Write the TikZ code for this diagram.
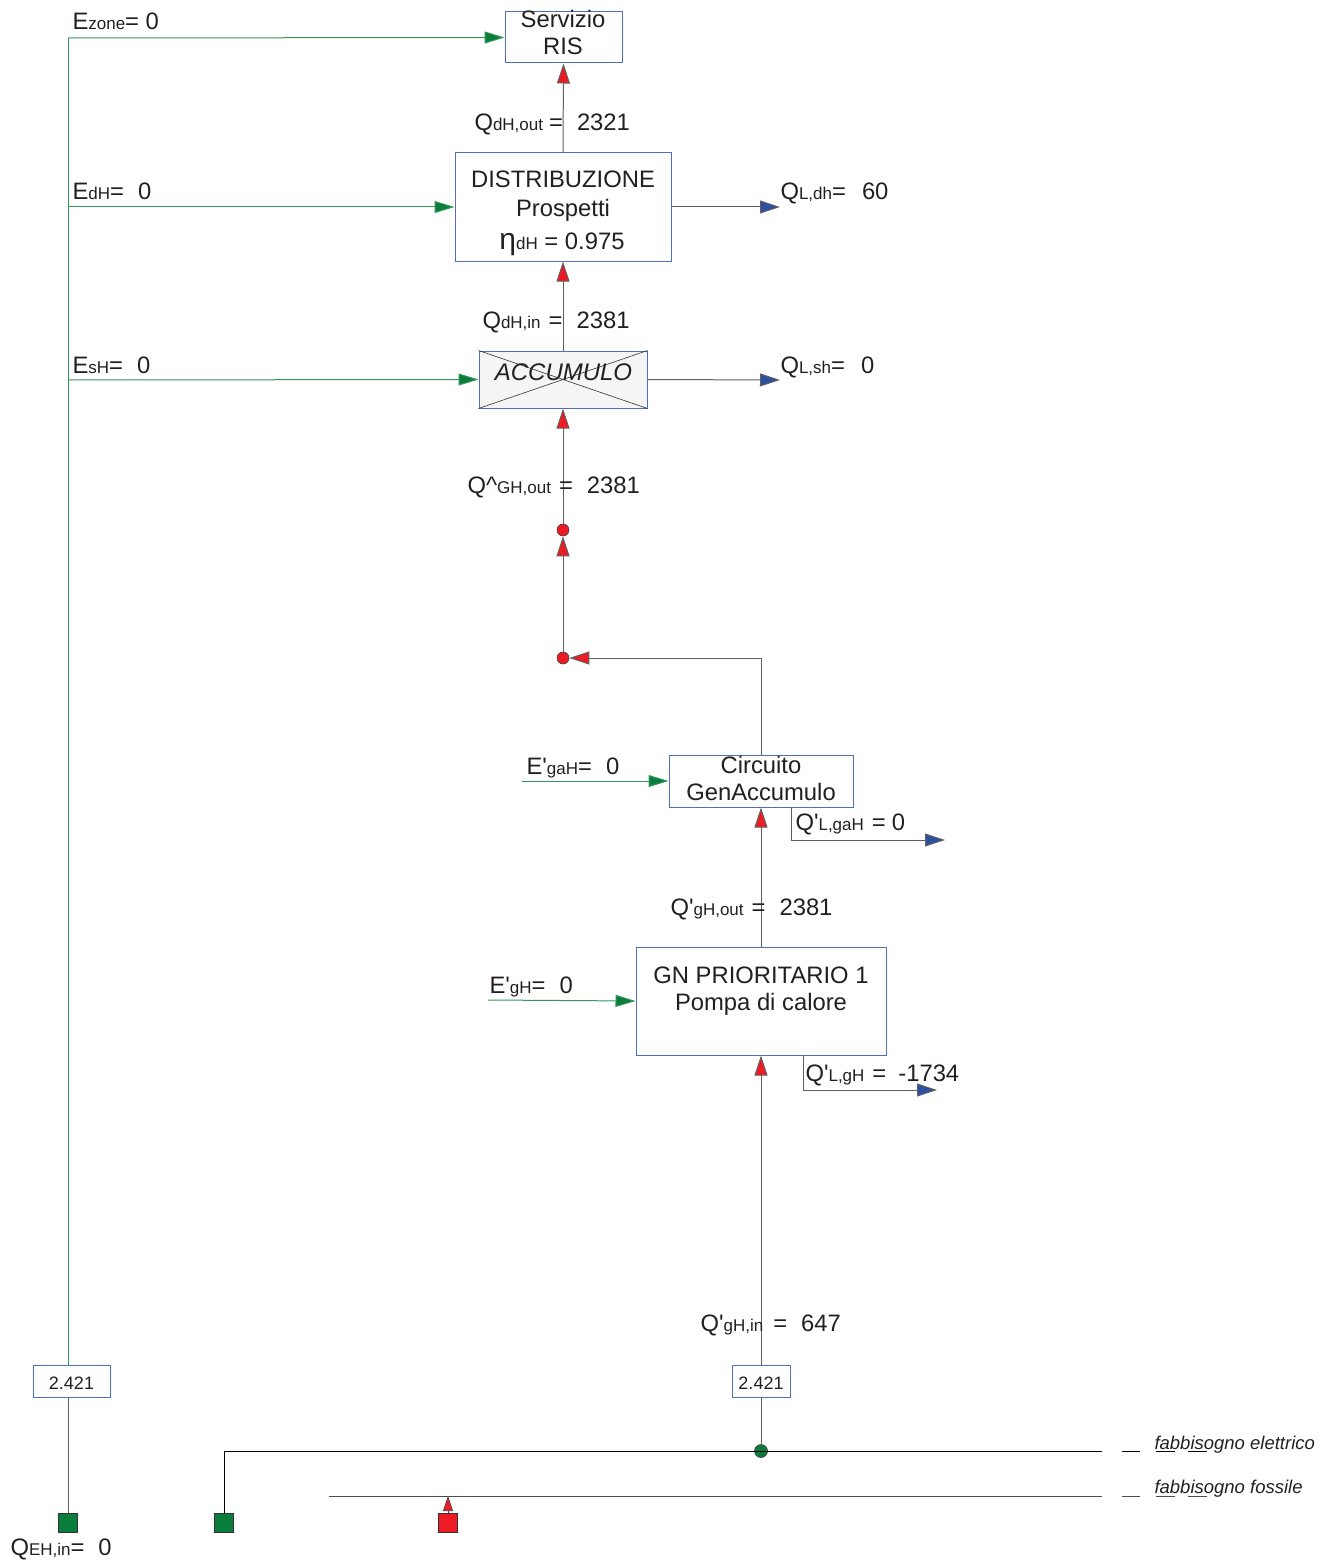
\documentclass[tikz,border=0pt]{standalone}
\usepackage{fontspec}
\newfontfamily\mainf{Liberation Sans}
\setmainfont{Liberation Sans}
\usetikzlibrary{arrows.meta}
\definecolor{ink}{RGB}{35,31,32}
\definecolor{boxblue}{RGB}{80,110,190}
\definecolor{lgreen}{RGB}{52,150,90}
\definecolor{dgreen}{RGB}{10,125,60}
\definecolor{ared}{RGB}{237,28,36}
\definecolor{ablue}{RGB}{45,80,160}
\definecolor{lgrey}{RGB}{95,95,95}
\definecolor{accfill}{RGB}{245,245,245}
\newcommand\sbx[1]{{\fontsize{17}{17}\selectfont #1}}
\begin{document}
\begin{tikzpicture}[x=1pt,y=-1pt,line width=1pt,
  box/.style={draw=boxblue,line width=1pt,fill=white,inner sep=0pt},
  txt/.style={anchor=base,inner sep=0pt,text=ink,font=\mainf\fontsize{23.8}{26}\selectfont},
  lbl/.style={txt,anchor=base west},
  small/.style={txt,font=\mainf\fontsize{18}{20}\selectfont},
  legend/.style={lbl,font=\mainf\fontsize{18.5}{20}\selectfont\itshape},
  rarr/.style={draw=lgrey,-{Triangle[length=20pt,width=13pt,fill=ared]}},
  garr/.style={draw=lgreen,-{Triangle[length=20pt,width=12pt,fill=dgreen]}},
  barr/.style={draw=lgrey,-{Triangle[length=20pt,width=13pt,fill=ablue]}},
  plain/.style={draw=lgrey},
  reddot/.style={circle,fill=ared,draw=black!75,line width=0.6pt,minimum size=12pt,inner sep=0pt},
  sqr/.style={rectangle,draw=black!80,line width=0.6pt,minimum size=19pt,inner sep=0pt}]
\useasboundingbox (0,0) rectangle (1331,1562);

% ---------- boxes ----------
\node[box,minimum width=117pt,minimum height=51pt] (ris) at (563.5,37.5) {};
\node[txt] (ris-t1) at (563,28) {Servizio};
\node[txt] (ris-t2) at (563,55) {RIS};

\node[box,minimum width=216pt,minimum height=108pt] (dist) at (563,207) {};
\node[txt] (dist-t1) at (563,188) {DISTRIBUZIONE};
\node[txt] (dist-t2) at (563,217) {Prospetti};
\node[txt] (dist-t3) at (562,250) {{\fontsize{30}{30}\selectfont η}\sbx{dH} = 0.975};

\node[box,fill=accfill,minimum width=168pt,minimum height=57pt] (acc) at (563,379.5) {};
\draw[black!80,line width=0.6pt] (acc.north west) -- (acc.south east) (acc.south west) -- (acc.north east);
\node[txt,font=\mainf\fontsize{24}{26}\selectfont\itshape] (acc-t) at (563.5,380) {ACCUMULO};

\node[box,minimum width=184pt,minimum height=52pt] (circ) at (761,781) {};
\node[txt] (circ-t1) at (761,773) {Circuito};
\node[txt] (circ-t2) at (761,800) {GenAccumulo};

\node[box,minimum width=250pt,minimum height=108pt] (gn) at (761,1001) {};
\node[txt] (gn-t1) at (761,983) {GN PRIORITARIO 1};
\node[txt] (gn-t2) at (761,1010) {Pompa di calore};

\node[box,minimum width=77pt,minimum height=32pt] (k1) at (71.5,1381) {};
\node[small] (k1-t) at (71.5,1389) {2.421};
\node[box,minimum width=58pt,minimum height=32pt] (k2) at (761,1381) {};
\node[small] (k2-t) at (761,1389) {2.421};

% ---------- dots and squares ----------
\node[reddot] (dot1) at (563,530) {};
\node[reddot] (dot2) at (563,658) {};
\node[circle,fill=dgreen,draw=black!75,line width=0.6pt,minimum width=13pt,minimum height=13pt,inner sep=0pt] (gdot) at (761,1451) {};
\node[sqr,fill=dgreen] (sq1) at (68,1522.5) {};
\node[sqr,fill=dgreen] (sq2) at (224,1522.5) {};
\node[sqr,fill=ared] (sq3) at (448,1522.5) {};

% ---------- coordinates ----------
\coordinate (ctop) at (68,38);
\coordinate (cdH) at (68,207);
\coordinate (csH) at (68,380);
\coordinate (qLdh) at (780,207);
\coordinate (qLsh) at (780,380);
\coordinate (egaH) at (522,781);
\coordinate (egH) at (488,1000);
\coordinate (lgaH1) at (791,807);
\coordinate (lgaH2) at (945,840);
\coordinate (lgH1) at (803,1055);
\coordinate (lgH2) at (937,1090);
\coordinate (eEnd) at (1102,1451);
\coordinate (fStart) at (329,1496);
\coordinate (fEnd) at (1102,1496);

% ---------- green energy connectors ----------
\draw[lgreen] (k1.north -| ctop) -- (ctop);
\draw[garr] (ctop) -- (ris.west);
\draw[garr] (cdH) -- (dist.west);
\draw[garr] (csH) -- (acc.west);
\draw[garr] (egaH) -- (circ.west);
\draw[garr] (egH) -- (gn.west);

% ---------- red heat connectors ----------
\draw[rarr] (dist.north) -- (ris.south);
\draw[rarr] (acc.north) -- (dist.south);
\draw[rarr] (dot1) -- (acc.south);
\draw[rarr] (dot2) -- (dot1);
\draw[rarr] (circ.north) -- (circ.north |- dot2) -- (dot2);
\draw[rarr] (gn.north) -- (circ.south);
\draw[rarr] (k2.north) -- (gn.south);

% ---------- blue losses ----------
\draw[barr] (dist.east) -- (qLdh);
\draw[barr] (acc.east) -- (qLsh);
\draw[barr] (lgaH1) -- (lgaH1 |- lgaH2) -- (lgaH2);
\draw[barr] (lgH1) -- (lgH1 |- lgH2) -- (lgH2);

% ---------- bottom ----------
\draw[plain] (k1.south -| sq1.north) -- (sq1.north);
\draw[plain] (k2.south) -- (gdot);
\draw[black] (sq2.north) -- (sq2.north |- eEnd) -- (eEnd);
\draw[black!70] (fStart) -- (fEnd);
\draw[black!75,line width=0.6pt,-{Triangle[length=15pt,width=10pt,fill=ared]}] (sq3.north) -- (sq3.north |- fEnd);

% legend
\draw[black,line width=0.8pt] (1122,1451) -- (1140,1451) (1156,1451) -- (1175,1451) (1188,1451) -- (1207,1451);
\draw[black!70,line width=0.8pt] (1122,1496) -- (1140,1496) (1156,1496) -- (1175,1496) (1188,1496) -- (1207,1496);
\node[legend] (leg1) at (1154,1449) {fabbisogno elettrico};
\node[legend] (leg2) at (1154,1493) {fabbisogno fossile};

% ---------- labels ----------
\node[lbl] (l-ezone) at (72,30) {E\sbx{zone}= 0};
\node[lbl] (l-edh) at (72,200) {E\sbx{dH}=\hspace{14pt}0};
\node[lbl] (l-esh) at (72,373) {E\sbx{sH}=\hspace{14pt}0};
\node[lbl] (l-qdhout) at (474,131) {Q\sbx{dH,out}\hspace{6pt}=\hspace{14pt}2321};
\node[lbl] (l-qldh) at (780,200) {Q\sbx{L,dh}=\hspace{16pt}60};
\node[lbl] (l-qdhin) at (482,328) {Q\sbx{dH,in}\hspace{8pt}=\hspace{14pt}2381};
\node[lbl] (l-qlsh) at (780,373) {Q\sbx{L,sh}=\hspace{16pt}0};
\node[lbl] (l-qghout) at (467,493) {Q\textasciicircum\sbx{GH,out}\hspace{8pt}=\hspace{14pt}2381};
\node[lbl] (l-egah) at (526,774) {E'\sbx{gaH}=\hspace{14pt}0};
\node[lbl] (l-qlgah) at (795,830) {Q'\sbx{L,gaH}\hspace{8pt}=\hspace{6pt}0};
\node[lbl] (l-qghout2) at (670,915) {Q'\sbx{gH,out}\hspace{8pt}=\hspace{14pt}2381};
\node[lbl] (l-egh) at (489,993) {E'\sbx{gH}=\hspace{14pt}0};
\node[lbl] (l-qlgh) at (805,1081) {Q'\sbx{L,gH}\hspace{8pt}=\hspace{12pt}-1734};
\node[lbl] (l-qghin) at (700,1331) {Q'\sbx{gH,in}\hspace{10pt}=\hspace{14pt}647};
\node[lbl] (l-qehin) at (10,1555) {Q\sbx{EH,in}=\hspace{14pt}0};
\end{tikzpicture}
\end{document}
